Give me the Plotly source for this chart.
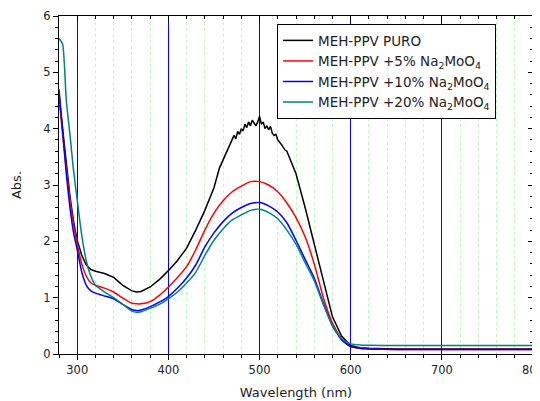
import plotly.graph_objects as go

wl = [280, 284, 288, 292, 296, 300, 305, 310, 315, 320, 330, 340, 350, 360, 365, 370,
      380, 390, 400, 410, 420, 430, 440, 450, 460, 470, 480, 490, 500, 510, 520, 530,
      540, 550, 560, 570, 580, 590, 600, 610, 620, 650, 700, 750, 800]

wl_black = [280, 284, 288, 292, 296, 300, 305, 310, 315, 320, 330, 340, 350, 360, 365, 370,
            380, 390, 400, 410, 420, 430, 440, 450, 456, 460, 464, 468, 470, 472, 474, 476,
            478, 480, 482, 484, 486, 488, 490, 492, 494, 496, 498, 500, 502, 504, 506, 508,
            510, 512, 514, 516, 518, 520, 524, 528, 530, 534, 540, 550, 560, 570, 580, 590,
            600, 610, 620, 650, 700, 750, 800]
black = [4.6, 4.0, 3.4, 2.8, 2.35, 2.02, 1.75, 1.58, 1.5, 1.47, 1.43, 1.36, 1.22, 1.12, 1.1, 1.11,
         1.19, 1.32, 1.48, 1.66, 1.88, 2.2, 2.55, 2.95, 3.3, 3.45, 3.6, 3.72, 3.8, 3.88, 3.82, 3.95,
         3.9, 4.0, 3.96, 4.08, 4.02, 4.12, 4.05, 4.15, 4.1, 4.05, 4.12, 4.22, 4.08, 4.12, 4.0, 4.05,
         3.98, 4.04, 3.92, 3.88, 3.9, 3.8, 3.72, 3.62, 3.6, 3.45, 3.2, 2.6, 1.95, 1.28, 0.66, 0.32,
         0.15, 0.11, 0.1, 0.09, 0.09, 0.09, 0.09]

red = [4.55, 3.9, 3.3, 2.75, 2.3, 1.95, 1.6, 1.38, 1.26, 1.22, 1.17, 1.1, 0.99, 0.9, 0.89, 0.89,
       0.93, 1.04, 1.19, 1.36, 1.55, 1.85, 2.2, 2.5, 2.72, 2.88, 2.98, 3.06, 3.06, 3.0, 2.88, 2.68,
       2.42, 2.08, 1.6, 1.0, 0.55, 0.27, 0.13, 0.1, 0.09, 0.08, 0.08, 0.08, 0.08]

blue = [4.7, 3.95, 3.2, 2.6, 2.15, 1.85, 1.45, 1.22, 1.12, 1.08, 1.03, 0.98, 0.88, 0.79, 0.77, 0.78,
        0.84, 0.92, 1.02, 1.17, 1.35, 1.58, 1.9, 2.15, 2.35, 2.5, 2.6, 2.67, 2.69, 2.63, 2.52, 2.33,
        2.02, 1.68, 1.35, 0.9, 0.5, 0.25, 0.13, 0.1, 0.09, 0.08, 0.08, 0.08, 0.08]

teal = [5.6, 5.5, 4.5, 3.9, 3.25, 2.73, 2.1, 1.65, 1.38, 1.22, 1.1, 1.0, 0.88, 0.76, 0.74, 0.75,
        0.81, 0.88, 0.98, 1.1, 1.26, 1.45, 1.75, 2.02, 2.22, 2.38, 2.47, 2.55, 2.57, 2.51, 2.4, 2.2,
        1.95, 1.62, 1.3, 0.88, 0.5, 0.27, 0.18, 0.16, 0.155, 0.15, 0.15, 0.15, 0.15]

names = ["MEH-PPV PURO",
         "MEH-PPV +5% Na<sub>2</sub>MoO<sub>4</sub>",
         "MEH-PPV +10% Na<sub>2</sub>MoO<sub>4</sub>",
         "MEH-PPV +20% Na<sub>2</sub>MoO<sub>4</sub>"]
colors = ["#000000", "#ff0000", "#0000ff", "#008080"]

fig = go.Figure()
fig.add_trace(go.Scatter(x=wl_black, y=black, mode="lines", name=names[0],
                         line=dict(color=colors[0], width=1.5)))
for ys, nm, c in zip([red, blue, teal], names[1:], colors[1:]):
    fig.add_trace(go.Scatter(x=wl, y=ys, mode="lines", name=nm,
                             line=dict(color=c, width=1.5, shape="spline", smoothing=0.5)))
# invisible trace for mirrored axes
fig.add_trace(go.Scatter(x=[280, 800], y=[0, 6], xaxis="x2", yaxis="y2", mode="lines",
                         line=dict(width=0), showlegend=False, hoverinfo="skip"))

font = "DejaVu Sans"
fig.update_layout(
    width=540, height=393,
    margin=dict(l=51, r=15, t=8, b=47),
    paper_bgcolor="white", plot_bgcolor="white",
    font=dict(family=font, size=11, color="#222"),
    showlegend=True,
    legend=dict(x=0.46, y=0.976, xanchor="left", yanchor="top",
                bordercolor="black", borderwidth=1, bgcolor="white",
                font=dict(family=font, size=13.5, color="#222"),
                tracegroupgap=0, itemwidth=30),
    xaxis=dict(range=[280, 800], dtick=100, tick0=0, showgrid=True, gridcolor="#0000ff",
               gridwidth=1, showline=True, linecolor="black", linewidth=1,
               ticks="outside", ticklen=5, tickcolor="black", zeroline=False,
               automargin=False, tickfont=dict(size=11.5),
               title=dict(text="Wavelength (nm)", font=dict(size=13), standoff=12),
               minor=dict(dtick=20, tick0=0, showgrid=True, gridcolor="#bff7bf",
                          griddash="dot", gridwidth=1, ticks="outside", ticklen=3,
                          tickcolor="black")),
    yaxis=dict(range=[0, 6], dtick=1, showgrid=False, showline=True, linecolor="black",
               linewidth=1, ticks="outside", ticklen=5, tickcolor="black", zeroline=False,
               automargin=False, tickfont=dict(size=11.5),
               title=dict(text="Abs.", font=dict(size=13), standoff=18),
               minor=dict(dtick=0.2, ticks="outside", ticklen=3, tickcolor="black")),
    xaxis2=dict(range=[280, 800], overlaying="x", side="top", dtick=100, tick0=0,
                showgrid=False, showline=True, linecolor="black", linewidth=1,
                ticks="inside", ticklen=5, tickcolor="black", showticklabels=False,
                zeroline=False, automargin=False,
                minor=dict(dtick=20, tick0=0, ticks="inside", ticklen=3, tickcolor="black")),
    yaxis2=dict(range=[0, 6], overlaying="y", side="right", dtick=1, showgrid=False,
                showline=True, linecolor="black", linewidth=1, ticks="inside", ticklen=5,
                tickcolor="black", showticklabels=False, zeroline=False, automargin=False,
                minor=dict(dtick=0.2, ticks="inside", ticklen=3, tickcolor="black")),
)

fig.write_html("out.html")
